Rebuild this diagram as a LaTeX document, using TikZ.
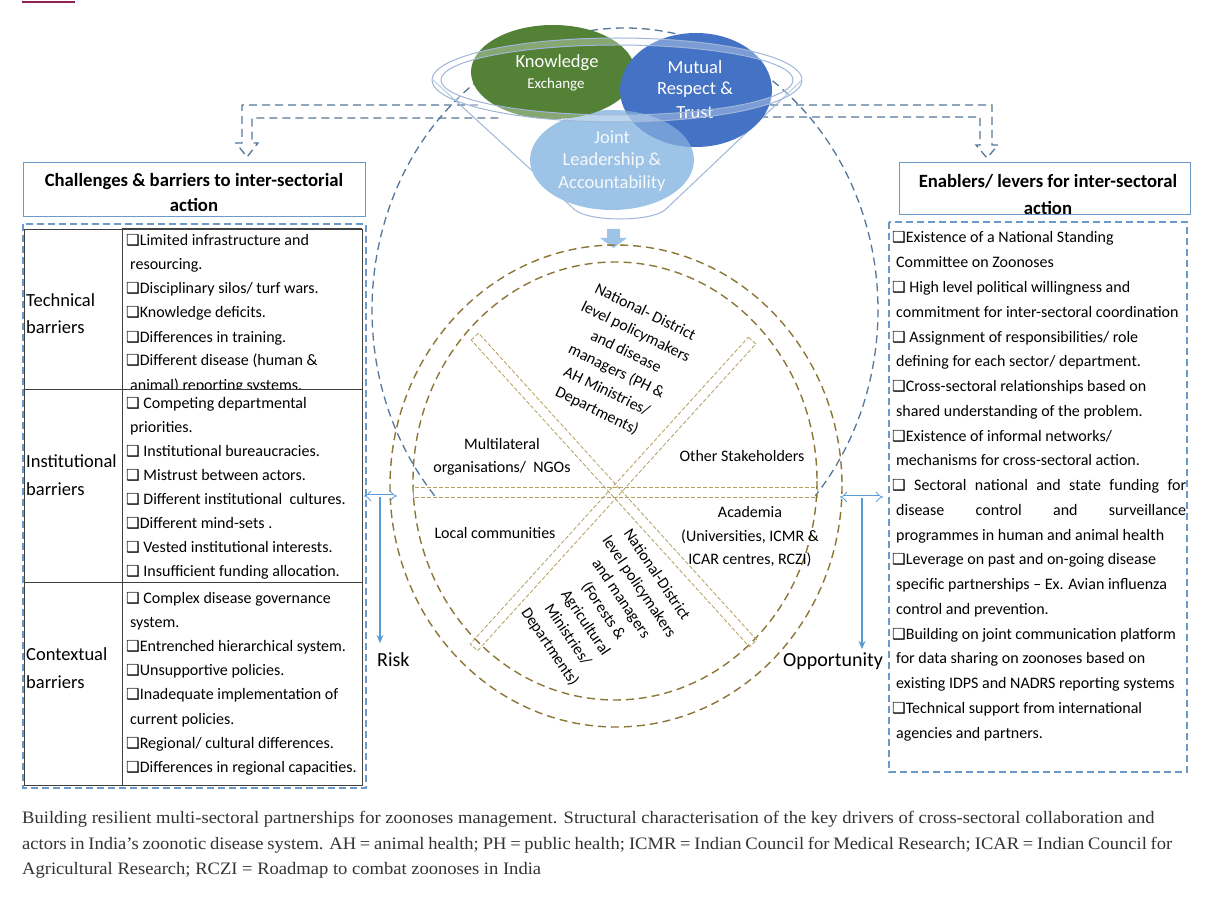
\documentclass[tikz,border=0pt]{standalone}
\usepackage{fontspec}
\setmainfont{Carlito}
\newfontfamily\capfont[FakeStretch=1.06]{Liberation Serif}
\newfontfamily\symfont[Scale=0.95]{DejaVu Sans}
\usetikzlibrary{arrows.meta}
\newcommand\chkbox{{\symfont ❑}}
\newcommand\indt{\hspace*{4pt}}
\definecolor{dblue}{HTML}{56779A}
\definecolor{bxblue}{HTML}{6B9AC9}
\definecolor{kgreen}{HTML}{538135}
\definecolor{mblue}{HTML}{4472C4}
\definecolor{jblue}{HTML}{9DC3E6}
\definecolor{cOlive}{HTML}{8C7636}
\definecolor{cOlivel}{HTML}{B39F5F}
\definecolor{funnelc}{HTML}{9FB6D8}
\definecolor{arrblue}{HTML}{5B9BD5}
\definecolor{capc}{HTML}{333333}
\begin{document}
\begin{tikzpicture}[x=1pt,y=-1pt,
  tx/.style={inner sep=0pt, anchor=base west, font=\fontsize{16}{20}\selectfont},
  lab/.style={inner sep=0pt, anchor=base west, font=\fontsize{18.5}{22}\selectfont},
  ctext/.style={inner sep=0pt, align=center, font=\fontsize{16}{21}\selectfont},
  etext/.style={inner sep=0pt, text=white, font=\fontsize{18.5}{22}\selectfont},
  dsh/.style={dblue, line width=1.3pt, dash pattern=on 8pt off 5pt},
  hbox/.style={draw=bxblue, line width=1pt},
  dbox/.style={draw=bxblue, line width=1.1pt, dash pattern=on 7pt off 4pt},
  circ/.style={cOlive, line width=1.4pt, dash pattern=on 8pt off 5pt},
  spoke/.style={cOlivel, line width=0.8pt, dash pattern=on 4pt off 2pt},
  tbl/.style={draw=black!75, line width=0.9pt},
  hollow/.style={arrblue, double=white, double distance=3pt, line width=0.8pt, {Implies}-{Implies}},
  down/.style={arrblue, line width=1.3pt, -{Stealth[length=8pt,width=7pt]}},
  captext/.style={inner sep=0pt, anchor=base west, text=capc, font=\capfont\fontsize{17.5}{20}\selectfont}
]
\useasboundingbox (0,0) rectangle (1221,901);
\fill[white] (0,0) rectangle (1221,901);
\draw[color={rgb,255:red,139;green,34;blue,82}, line width=1.5pt] (22,2) -- (75,2);

% big dashed ellipse
\draw[dsh] (625,310) ++(138.8:253 and 282) arc[start angle=138.8, end angle=401.2, x radius=253, y radius=282];

% dashed hollow arrows at top
\draw[dsh] (478,105) -- (242,105) -- (242,143) -- (236,143) -- (247,157) -- (258,143) -- (252,143) -- (252,118) -- (500,118);
\draw[dsh] (770,105) -- (992,105) -- (992,145) -- (998,145) -- (987,158) -- (976,145) -- (980,145) -- (980,117) -- (760,117);

% funnel
\draw[funnelc, line width=1pt] (433,80) -- (575,210) .. controls (590,222) and (650,222) .. (665,210) -- (802,80);
\fill[jblue] (612,160) ellipse [x radius=82, y radius=50];
\fill[kgreen] (553,72) ellipse [x radius=82, y radius=47];
\fill[mblue] (696,90) ellipse [x radius=76, y radius=57];
\begin{scope}
\clip (696,90) ellipse [x radius=76, y radius=57];
\fill[jblue, opacity=0.55] (612,160) ellipse [x radius=82, y radius=50];
\end{scope}
\node[etext] (ke1) at (557,63) {Knowledge};
\node[etext, font=\fontsize{15}{18}\selectfont] (ke2) at (556,85) {Exchange};
\node[etext] (mr1) at (695,67) {Mutual};
\node[etext] (mr2) at (695,90) {Respect \&};
\node[etext] (mr3) at (695,113) {Trust};
\node[etext, text=white!90!jblue] (jl1) at (612,137) {Joint};
\node[etext, text=white!90!jblue] (jl2) at (612,161) {Leadership \&};
\node[etext, text=white!90!jblue] (jl3) at (612,184) {Accountability};
\fill[white, opacity=0.3, even odd rule] (617,80) ellipse [x radius=185, y radius=42] (617,80) ellipse [x radius=176, y radius=35];
\draw[funnelc, line width=1pt] (617,80) ellipse [x radius=185, y radius=42];
\draw[funnelc, line width=1pt] (617,80) ellipse [x radius=176, y radius=35];
\fill[jblue] (607,229) -- (620,229) -- (620,238) -- (627,238) -- (613.5,248) -- (600,238) -- (607,238) -- cycle;

% central circle
\draw[circ] (616,486) ellipse [x radius=226, y radius=241];
\draw[circ] (615,481) ellipse [x radius=202, y radius=219];
\draw[spoke] (413,487) rectangle (817,497);
\draw[spoke] (471.2,340) -- (478.6,333.2) -- (756.8,640) -- (749.4,646.8) -- cycle;
\draw[spoke] (748.4,337.2) -- (755.8,343.9) -- (477.6,650.8) -- (470.2,644) -- cycle;

\node[ctext, rotate=-26, font=\fontsize{16}{22}\selectfont] (s1) at (621,362) {National- District\\level policymakers\\and disease\\managers (PH \&\\AH Ministries/\\Departments)};
\node[ctext, rotate=-56, font=\fontsize{16}{21.5}\selectfont] (s2) at (603,611) {National-District\\level policymakers\\and managers\\(Forests \&\\Agricultural\\Ministries/\\Departments)};
\node[ctext, font=\fontsize{16}{23}\selectfont] (s3) at (502,457) {Multilateral\\organisations/\ \ NGOs};
\node[ctext] (s4) at (742,456) {Other Stakeholders};
\node[ctext] (s5) at (495,533) {Local communities};
\node[ctext, font=\fontsize{16}{23.5}\selectfont] (s6) at (750,537) {Academia\\(Universities, ICMR \&\\ICAR centres, RCZI)};

% left header
\node[hbox, minimum width=342pt, minimum height=54pt, inner sep=0pt] (lhead) at (194,190) {};
\node[inner sep=0pt, align=center, font=\bfseries\fontsize{18.7}{25}\selectfont] (lheadt) at (194,193) {Challenges \& barriers to inter-sectorial\\action};
% right header
\node[hbox, minimum width=291pt, minimum height=52pt, inner sep=0pt] (rhead) at (1044.5,189) {};
\node[inner sep=0pt, align=center, font=\bfseries\fontsize{18.7}{27}\selectfont] (rheadt) at (1048,195) {Enablers/ levers for inter-sectoral\\action};

% left dashed box and table
\draw[dbox] (23,224) rectangle (366,788);
\draw[tbl] (24,229) rectangle (362,785);
\draw[tbl] (122,229) -- (122,785);
\draw[tbl] (24,389) -- (362,389);
\draw[tbl] (24,582) -- (362,582);
\draw[black!75, line width=1.6pt] (122,229) -- (362,229);

\node[lab] (t1a) at (26,307) {Technical};
\node[lab] (t1b) at (26,334) {barriers};
\node[lab] (t2a) at (26,467) {Institutional};
\node[lab] (t2b) at (26,495) {barriers};
\node[lab] (t3a) at (26,660) {Contextual};
\node[lab] (t3b) at (26,688) {barriers};

\begin{scope}
\clip (123,230) rectangle (361,388.5);
\foreach \t [count=\i from 0] in {{\chkbox Limited infrastructure and},{\indt resourcing.},{\chkbox Disciplinary silos/ turf wars.},{\chkbox Knowledge deficits.},{\chkbox Differences in training.},{\chkbox Different disease (human \&},{\indt animal) reporting systems.}}
  \node[tx] at (126,246+24*\i) {\t};
\end{scope}
\foreach \t [count=\i from 0] in {{\chkbox\ Competing departmental},{\indt priorities.},{\chkbox\ Institutional bureaucracies.},{\chkbox\ Mistrust between actors.},{\chkbox\ Different institutional\ \ cultures.},{\chkbox Different mind-sets .},{\chkbox\ Vested institutional interests.},{\chkbox\ Insufficient funding allocation.}}
  \node[tx] at (126,408+24.1*\i) {\t};
\foreach \t [count=\i from 0] in {{\chkbox\ Complex disease governance},{\indt system.},{\chkbox Entrenched hierarchical system.},{\chkbox Unsupportive policies.},{\chkbox Inadequate implementation of},{\indt current policies.},{\chkbox Regional/ cultural differences.},{\chkbox Differences in regional capacities.}}
  \node[tx] at (126,603+24.2*\i) {\t};

% right dashed box
\draw[dbox] (889,222) rectangle (1187,772);
\foreach \t [count=\i from 0] in {{\chkbox Existence of a National Standing},{\indt Committee on Zoonoses},{\chkbox\ High level political willingness and},{\indt commitment for inter-sectoral coordination},{\chkbox\ Assignment of responsibilities/ role},{\indt defining for each sector/ department.},{\chkbox Cross-sectoral relationships based on},{\indt shared understanding of the problem.},{\chkbox Existence of informal networks/},{\indt mechanisms for cross-sectoral action.},{\makebox[294pt][s]{\chkbox\ Sectoral national and state funding for}},{\indt\makebox[290pt][s]{disease control and surveillance}},{\indt programmes in human and animal health},{\chkbox Leverage on past and on-going disease},{\indt specific partnerships -- Ex. Avian influenza},{\indt control and prevention.},{\chkbox Building on joint communication platform},{\indt for data sharing on zoonoses based on},{\indt existing IDPS and NADRS reporting systems},{\chkbox Technical support from international},{\indt agencies and partners.}}
  \node[tx] at (892,243+24.75*\i) {\t};

% risk / opportunity
\coordinate (lb) at (364,496);
\coordinate (lc) at (397,496);
\draw[hollow] (lb) -- (lc);
\coordinate (rtop) at (380,497);
\coordinate (rbot) at (380,643);
\draw[down] (rtop) -- (rbot);
\node[inner sep=0pt, anchor=base west, font=\fontsize{20}{24}\selectfont] (risk) at (377,666) {Risk};
\coordinate (rc) at (840,497);
\coordinate (rb) at (883,497);
\draw[hollow] (rc) -- (rb);
\coordinate (otop) at (862,498);
\coordinate (obot) at (862,649);
\draw[down] (otop) -- (obot);
\node[inner sep=0pt, anchor=base west, font=\fontsize{20}{24}\selectfont] (opp) at (783,666) {Opportunity};

% caption
\node[captext] (c1) at (22,823) {Building resilient multi-sectoral partnerships for zoonoses management. Structural characterisation of the key drivers of cross-sectoral collaboration and};
\node[captext] (c2) at (22,849) {\makebox[1150pt][s]{actors in India’s zoonotic disease system. AH = animal health; PH = public health; ICMR = Indian Council for Medical Research; ICAR = Indian Council for}};
\node[captext] (c3) at (22,874) {Agricultural Research; RCZI = Roadmap to combat zoonoses in India};
\end{tikzpicture}
\end{document}
